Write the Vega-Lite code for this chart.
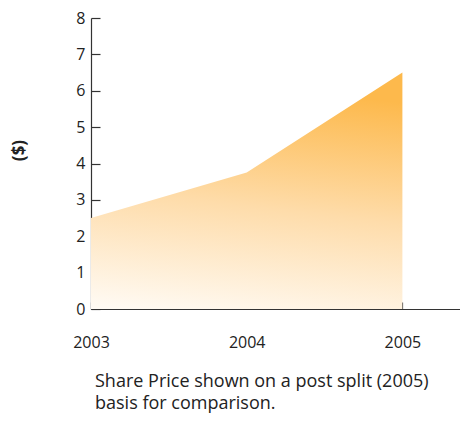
{
  "$schema": "https://vega.github.io/schema/vega-lite/v6.json",
  "autosize": "none",
  "width": 369,
  "height": 291,
  "padding": {"left": 91, "top": 18, "right": 0, "bottom": 114},
  "background": "white",
  "config": {
    "view": {"stroke": null},
    "font": "Open Sans",
    "axis": {"grid": false, "domainColor": "#333333", "tickColor": "#333333", "labelColor": "#222222", "labelFontSize": 16, "labelFont": "Open Sans", "domainWidth": 1.2, "tickWidth": 1.2}
  },
  "title": {
    "text": ["Share Price shown on a post split (2005)", "basis for comparison."],
    "orient": "bottom",
    "anchor": "start",
    "frame": "group",
    "align": "left",
    "fontSize": 18,
    "fontWeight": "normal",
    "color": "#222222",
    "font": "Open Sans",
    "offset": 23,
    "lineHeight": 22,
    "dx": 4
  },
  "data": {
    "values": [
      {"year": 2003, "price": 2.5},
      {"year": 2004, "price": 3.75},
      {"year": 2005, "price": 6.5}
    ]
  },
  "mark": {
    "type": "area",
    "color": {
      "gradient": "linear",
      "x1": 0, "y1": 1, "x2": 0.15, "y2": 0,
      "stops": [
        {"offset": 0, "color": "#fffbf5"},
        {"offset": 0.5, "color": "#fedcaa"},
        {"offset": 1, "color": "#fdb94c"}
      ]
    }
  },
  "encoding": {
    "x": {
      "field": "year",
      "type": "quantitative",
      "scale": {"domain": [2003, 2005.37], "nice": false, "zero": false},
      "axis": {"values": [2003, 2004, 2005], "format": "d", "title": null, "tickSize": -7, "labelPadding": 32, "labelFlush": false, "labelOverlap": false}
    },
    "y": {
      "field": "price",
      "type": "quantitative",
      "scale": {"domain": [0, 8], "nice": false},
      "axis": {"values": [0, 1, 2, 3, 4, 5, 6, 7, 8], "title": "($)", "titleFontSize": 17, "titleFontWeight": "bold", "titleColor": "#222222", "titleX": -63, "titleY": 132, "tickSize": -9, "labelPadding": 15}
    }
  }
}
